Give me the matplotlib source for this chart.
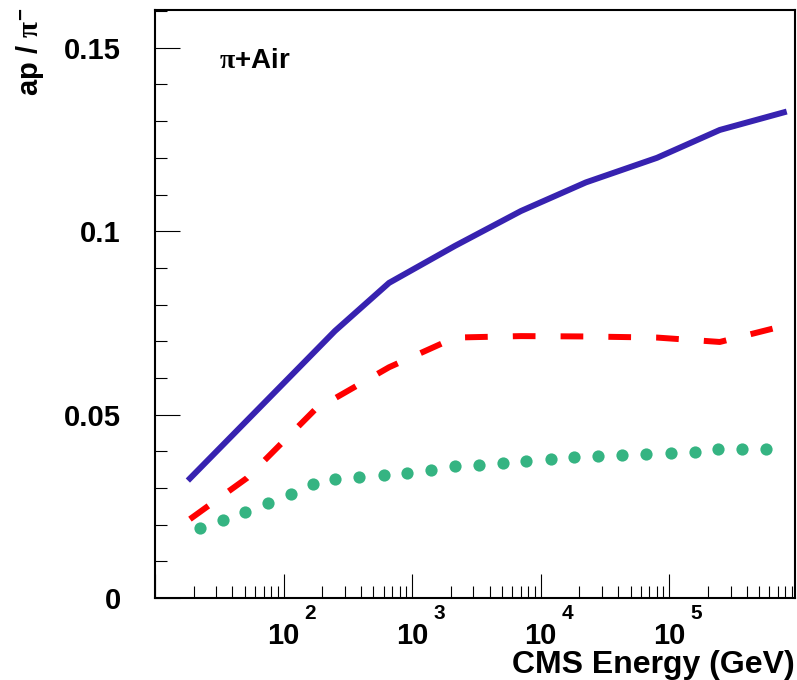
"""
Antiproton / pi- ratio vs CMS energy for pi+Air collisions
"""

import matplotlib
matplotlib.use("Agg")
import matplotlib.pyplot as plt
from matplotlib.ticker import FixedLocator, FixedFormatter, LogLocator, NullFormatter

SAVE_PATH = "out.png"

# solid blue curve
blue_energy = [18.7, 112, 251, 661, 2155, 7020, 22450, 80200, 247000, 778000]
blue_ratio = [0.0326, 0.0603, 0.0728, 0.0859, 0.0960, 0.1055, 0.1133, 0.1200, 0.1276, 0.1324]

# dashed red curve
red_energy = [18.7, 51.9, 175, 661, 2155, 7020, 22450, 80200, 247000, 778000]
red_ratio = [0.0215, 0.0327, 0.0513, 0.0629, 0.0710, 0.0714, 0.0713, 0.0710, 0.0698, 0.0742]

# dotted green curve (one value per dot)
green_energy = [
    22.3, 33.5, 50.1, 76.0, 113.6, 168.4, 253, 386, 599, 916,
    1397, 2137, 3306, 5057, 7716, 11960, 18280, 27900, 42950, 66100,
    102300, 157700, 241000, 370000, 570000,
]
green_ratio = [
    0.0190, 0.0213, 0.0235, 0.0260, 0.0284, 0.0310, 0.0325, 0.0329, 0.0335, 0.0342,
    0.0350, 0.0359, 0.0362, 0.0368, 0.0373, 0.0379, 0.0385, 0.0388, 0.0389, 0.0392,
    0.0395, 0.0399, 0.0405, 0.0405, 0.0405,
]

y_ticks = [0, 0.05, 0.1, 0.15]
y_tick_labels = ["0", "0.05", "0.1", "0.15"]
x_label_exps = [2, 3, 4, 5]

W, H = 797, 680


def plot_ratio():

    plt.rcParams["font.family"] = ["Liberation Sans", "DejaVu Sans"]
    plt.rcParams["font.weight"] = "bold"
    plt.rcParams["mathtext.fontset"] = "custom"
    plt.rcParams["mathtext.it"] = "Liberation Serif"
    plt.rcParams["mathtext.rm"] = "Liberation Sans:bold"
    plt.rcParams["mathtext.bf"] = "Liberation Sans:bold"

    fig = plt.figure(figsize=(W / 100, H / 100), dpi=100, facecolor="white")
    ax = fig.add_axes([155 / W, 1 - 598 / H, 640 / W, 588 / H])

    ax.plot(blue_energy, blue_ratio, color="#3722b0", linewidth=4.3,
            solid_joinstyle="miter")
    ax.plot(red_energy, red_ratio, color="#ff0000", linewidth=4.3,
            dashes=(3.8, 4.2), dash_capstyle="butt")
    ax.plot(green_energy, green_ratio, linestyle="none", marker="o",
            markersize=8.8, color="#35b482", markeredgewidth=0)

    ax.set_xscale("log")
    ax.set_xlim(10, 9.5e5)
    ax.set_ylim(0, 0.1603)

    # x axis: inward ticks, labels drawn by hand below
    ax.xaxis.set_major_locator(LogLocator(base=10, numticks=20))
    ax.xaxis.set_minor_locator(LogLocator(base=10, subs=range(2, 10), numticks=20))
    ax.xaxis.set_major_formatter(NullFormatter())
    ax.xaxis.set_minor_formatter(NullFormatter())

    ax.yaxis.set_major_locator(FixedLocator(y_ticks))
    ax.yaxis.set_major_formatter(FixedFormatter(y_tick_labels))
    ax.yaxis.set_minor_locator(FixedLocator([i * 0.01 for i in range(17)]))

    ax.tick_params(axis="x", which="major", direction="in", length=17,
                   width=0.8, top=False)
    ax.tick_params(axis="x", which="minor", direction="in", length=8.6,
                   width=0.8, top=False)
    ax.tick_params(axis="y", which="major", direction="in", length=18,
                   width=0.8, right=False, pad=24.5, labelsize=21)
    ax.tick_params(axis="y", which="minor", direction="in", length=8.6,
                   width=0.8, right=False)

    for spine in ax.spines.values():
        spine.set_linewidth(1.5)

    for e in x_label_exps:
        ax.annotate("10", xy=(10 ** e, 0), xycoords=("data", "axes fraction"),
                    xytext=(0, -24), textcoords="offset pixels",
                    ha="center", va="top", fontsize=21, fontweight="bold")
        ax.annotate(str(e), xy=(10 ** e, 0), xycoords=("data", "axes fraction"),
                    xytext=(21, -6), textcoords="offset pixels",
                    ha="left", va="top", fontsize=15, fontweight="bold")

    fig.text(795 / W, 1 - 673 / H, "CMS Energy (GeV)", ha="right",
             va="baseline", fontsize=23, fontweight="bold")

    fig.text(30 / W, 1 - 8 / H, r"ap / $\pi^{-}$", rotation=90,
             ha="center", va="top", fontsize=21, fontweight="bold")

    fig.text(219 / W, 1 - 68 / H, r"$\pi$+Air", ha="left", va="baseline",
             fontsize=20, fontweight="bold")

    fig.savefig(SAVE_PATH, dpi=100, facecolor="white")
    plt.close(fig)
    print(f"Saved to: {SAVE_PATH}")


if __name__ == "__main__":
    plot_ratio()
